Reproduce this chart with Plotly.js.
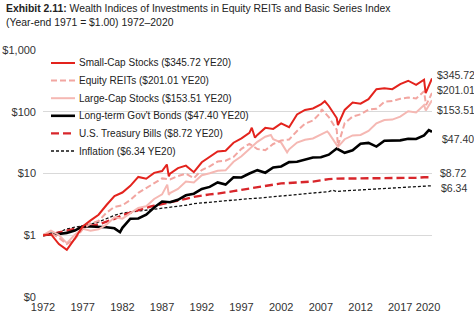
<!DOCTYPE html>
<html>
<head>
<meta charset="utf-8">
<script src="https://cdn.plot.ly/plotly-3.0.1.min.js"></script>
<style>
  html, body { margin: 0; padding: 0; background: #fff; }
  #chart { width: 474px; height: 327px; }
</style>
</head>
<body>
<div id="chart"></div>
<script>
// ---------- DATA (year-end wealth index, year-end 1971 = $1.00) ----------
const yearEnds = [1971,1972,1973,1974,1975,1976,1977,1978,1979,1980,
                  1981,1982,1983,1984,1985,1986,1987,1988,1989,1990,
                  1991,1992,1993,1994,1995,1996,1997,1998,1999,2000,
                  2001,2002,2003,2004,2005,2006,2007,2008,2009,2010,
                  2011,2012,2013,2014,2015,2016,2017,2018,2019,2020];

const seriesNames = ["Small-Cap Stocks", "Equity REITs", "Large-Cap Stocks",
                     "Long-term Gov't Bonds", "U.S. Treasury Bills", "Inflation"];

const smallCap = [1.00,1.04,0.72,0.58,0.88,1.39,1.74,2.15,3.09,4.32,
                  4.92,6.30,8.80,8.21,10.24,10.95,9.93,12.2,13.4,10.5,
                  15.2,18.8,22.7,23.4,31.5,37.1,45.5,42.2,54.8,52.8,
                  64.8,56.2,90.3,106.9,113,131,124,79,107,141,
                  135,160,232,241,232,281,318,272,330,345.72];
const equityReits = [1.00,1.08,0.91,0.72,0.86,1.26,1.55,1.71,2.32,2.88,
                  3.06,3.72,4.85,5.87,6.99,8.33,8.03,9.11,9.92,8.39,
                  11.38,13.05,15.62,16.12,18.58,25.14,30.25,24.95,23.80,30.09,
                  34.27,35.57,48.77,64.18,72.01,97.29,82.0,51.1,65.4,83.7,
                  90.7,108.5,111.7,145.3,149.4,162.1,170.5,163.7,214,201.01];
const largeCap = [1.00,1.19,1.01,0.745,1.02,1.27,1.18,1.25,1.48,1.96,
                  1.86,2.26,2.77,2.94,3.87,4.59,4.83,5.63,7.41,7.18,
                  9.37,10.08,11.10,11.25,15.47,19.02,25.37,32.62,39.49,35.89,
                  31.63,24.64,31.71,35.16,36.89,42.71,45.06,28.39,35.90,41.31,
                  42.18,48.93,64.78,73.64,74.66,83.59,101.84,97.37,128.0,153.51];
const govBonds = [1.00,1.057,1.045,1.091,1.192,1.392,1.382,1.366,1.349,1.295,
                  1.320,1.853,1.866,2.155,2.823,3.515,3.42,3.752,4.431,4.706,
                  5.614,6.069,7.173,6.614,8.711,8.632,10.005,11.32,10.30,12.51,
                  12.98,15.29,15.50,16.82,18.13,18.35,20.17,25.39,21.61,23.79,
                  30.24,31.27,27.26,34.0,33.76,34.37,36.50,36.13,41.48,47.40];
const tBills = [1.00,1.038,1.110,1.199,1.268,1.333,1.401,1.502,1.658,1.844,
                  2.115,2.337,2.543,2.795,3.010,3.197,3.373,3.589,3.890,4.193,
                  4.428,4.583,4.716,4.900,5.174,5.443,5.731,6.012,6.295,6.666,
                  6.920,7.030,7.101,7.186,7.402,7.757,8.122,8.252,8.260,8.268,
                  8.27,8.28,8.28,8.28,8.28,8.30,8.37,8.52,8.70,8.72];
const inflation = [1.00,1.034,1.124,1.262,1.349,1.415,1.510,1.646,1.865,2.098,
                  2.285,2.372,2.462,2.558,2.655,2.684,2.802,2.926,3.060,3.247,
                  3.347,3.444,3.537,3.633,3.724,3.847,3.912,3.975,4.082,4.221,
                  4.288,4.391,4.475,4.622,4.780,4.899,5.100,5.105,5.243,5.322,
                  5.481,5.575,5.658,5.703,5.743,5.864,5.987,6.101,6.241,6.34];

// intra-year extremes (decimal date, value)
const smallCapExtraT = [1987.6, 1987.85, 1998.3, 1998.7, 2007.5, 2009.15, 2020.2];
const smallCapExtraV = [14.0, 9.0, 55, 38, 148, 61, 200];
const reitsExtraT = [2007.1, 2009.15, 2020.25];
const reitsExtraV = [110, 28, 128];
const largeCapExtraT = [1987.65, 1987.85, 2000.7, 2002.75, 2007.8, 2009.15, 2020.22];
const largeCapExtraV = [6.6, 4.5, 42, 22, 48, 27, 105];
const govBondsExtraT = [1981.7, 2020.6];
const govBondsExtraV = [1.12, 50.5];
const inflationExtraT = [2008.5];
const inflationExtraV = [5.35];

const yTickVals = [0.1, 1, 10, 100, 1000];
const yTickText = ["$0", "$1", "$10", "$100", "$1,000"];
const xTickText = ["1972","1977","1982","1987","1992","1997","2002","2007","2012","2017","2020"];

// ---------- STYLE ----------
const FONT = "Liberation Sans, Arial, sans-serif";
const W = 474, H = 327;
const M = {l: 43, r: 42, t: 50, b: 30};
const PW = W - M.l - M.r, PH = H - M.t - M.b;
const styles = [
  {color: "#e3231d", width: 2.0, dash: "solid"},
  {color: "#f2a6a1", width: 2.0, dash: "6px,3px"},
  {color: "#f5b8b3", width: 2.0, dash: "solid"},
  {color: "#000000", width: 2.6, dash: "solid"},
  {color: "#d8262b", width: 2.4, dash: "8px,4px"},
  {color: "#111111", width: 1.3, dash: "3px,2px"}
];
const labelPos = [ // right-hand label placement (log10 y, x shift px)
  {y: 2.595, dx: 3}, {y: 2.352, dx: 3}, {y: 2.028, dx: 3},
  {y: 1.559, dx: 8}, {y: 1.008, dx: 6}, {y: 0.765, dx: 7}
];
const xTickPos = [1972,1977,1982,1987,1992,1997,2002,2007,2012,2017,2020.5];
// custom legend geometry (pixels)
const LEG = {x0: 51, x1: 75, tx: 77, y0: 63, dy: 17.6};
const px2x = p => (p - M.l) / PW;
const px2y = p => 1 - (p - M.t) / PH;

// ---------- BUILD ----------
function build(vals, exT, exV) {
  const pts = yearEnds.map((y, i) => [y + 1, vals[i]]);
  (exT || []).forEach((t, i) => pts.push([t, exV[i]]));
  pts.sort((a, b) => a[0] - b[0]);
  return {x: pts.map(p => p[0]), y: pts.map(p => p[1])};
}
const allSeries = [
  build(smallCap, smallCapExtraT, smallCapExtraV),
  build(equityReits, reitsExtraT, reitsExtraV),
  build(largeCap, largeCapExtraT, largeCapExtraV),
  build(govBonds, govBondsExtraT, govBondsExtraV),
  build(tBills),
  build(inflation, inflationExtraT, inflationExtraV)
];
const finals = [smallCap, equityReits, largeCap, govBonds, tBills, inflation].map(a => a[a.length - 1]);
const legendNames = seriesNames.map((n, i) => n + " ($" + finals[i].toFixed(2) + " YE20)");

const traces = allSeries.map((s, i) => ({
  type: "scatter", mode: "lines",
  x: s.x, y: s.y,
  name: legendNames[i],
  line: {color: styles[i].color, width: styles[i].width, dash: styles[i].dash},
  hoverinfo: "skip", showlegend: false
})).reverse();

const annotations = finals.map((v, i) => ({
  xref: "paper", yref: "y", x: 1, y: labelPos[i].y,
  xanchor: "left", yanchor: "middle", xshift: labelPos[i].dx,
  text: "$" + v.toFixed(2), showarrow: false,
  font: {family: FONT, size: 10.5, color: "#333"}
}));
annotations.push({
  xref: "paper", yref: "paper", x: px2x(4), y: 1, xanchor: "left", yanchor: "bottom",
  yshift: 20, align: "left", showarrow: false,
  text: "<b>Exhibit 2.11:</b> Wealth Indices of Investments in Equity REITs and Basic Series Index<br>(Year-end 1971 = $1.00) 1972–2020",
  font: {family: FONT, size: 10.4, color: "#222"}
});

const shapes = [{
  type: "rect", xref: "paper", yref: "paper", layer: "between",
  x0: px2x(46), x1: px2x(248), y0: px2y(121), y1: px2y(106),
  fillcolor: "#ffffff", line: {width: 0}
}];
legendNames.forEach((n, i) => {
  const py = LEG.y0 + LEG.dy * i;
  shapes.push({
    type: "line", xref: "paper", yref: "paper", layer: "above",
    x0: px2x(LEG.x0), x1: px2x(LEG.x1), y0: px2y(py), y1: px2y(py),
    line: {color: styles[i].color, width: styles[i].width, dash: styles[i].dash}
  });
  annotations.push({
    xref: "paper", yref: "paper", x: px2x(LEG.tx), y: px2y(py),
    xanchor: "left", yanchor: "middle", showarrow: false,
    text: n, font: {family: FONT, size: 10, color: "#222"}
  });
});

const layout = {
  width: W, height: H,
  margin: {l: M.l, r: M.r, t: M.t, b: M.b, pad: 0},
  paper_bgcolor: "#fff", plot_bgcolor: "#fff",
  font: {family: FONT, size: 11, color: "#333"},
  xaxis: {
    range: [1972, 2021], tickvals: xTickPos, ticktext: xTickText,
    showgrid: false, zeroline: false, showline: false, ticks: "",
    tickfont: {family: FONT, size: 11, color: "#333"}, ticklabelstandoff: 2
  },
  yaxis: {
    type: "log", range: [-1, 3], tickvals: yTickVals, ticktext: yTickText,
    showgrid: true, gridcolor: "#d9d9d9", gridwidth: 1,
    zeroline: false, showline: false, ticks: "",
    tickfont: {family: FONT, size: 11, color: "#333"}, ticklabelstandoff: 6
  },
  shapes: shapes,
  annotations: annotations,
  showlegend: false
};

Plotly.newPlot("chart", traces, layout, {staticPlot: true, displayModeBar: false});
</script>
</body>
</html>
